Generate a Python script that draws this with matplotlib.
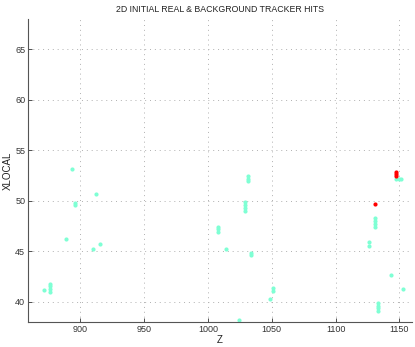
import numpy as np
import matplotlib
matplotlib.use("Agg")
from matplotlib import pyplot as plt

# background hits (Z, XLOCAL)
bg_z = [871.5, 876.2, 876.2, 876.2, 876.2, 888.8, 893.2, 895.8, 895.8, 910.2, 912.5, 915.1,
        1007.6, 1007.6, 1007.6, 1014.4, 1024.4, 1029.1, 1029.1, 1029.1, 1029.1,
        1031.4, 1031.4, 1031.4, 1034.0, 1034.0, 1048.4, 1051.0, 1051.0,
        1126.2, 1126.2, 1131.0, 1131.0, 1131.0, 1131.0, 1133.3, 1133.3, 1133.3, 1133.3,
        1143.2, 1147.5, 1149.5, 1151.5, 1152.9]
bg_x = [41.2, 41.0, 41.3, 41.55, 41.8, 46.25, 53.2, 49.6, 49.8, 45.2, 50.7, 45.7,
        46.9, 47.2, 47.45, 45.2, 38.2, 48.95, 49.3, 49.6, 49.85,
        51.95, 52.2, 52.45, 44.6, 44.85, 40.25, 41.05, 41.4,
        45.55, 45.9, 47.45, 47.75, 48.05, 48.35, 39.05, 39.35, 39.6, 39.85,
        42.7, 52.2, 52.2, 52.2, 41.25]

# real hits
real_z = [1131.0, 1147.6, 1147.6, 1147.6]
real_x = [49.7, 52.5, 52.7, 52.9]

plt.rcParams['font.family'] = ['Liberation Sans', 'DejaVu Sans']

fig = plt.figure(figsize=(4.15, 3.47), dpi=100)
ax = fig.add_axes([0.0675, 0.072, 0.9255, 0.873])

ax.plot(bg_z, bg_x, 'o', color='#7fffd4', markersize=3.0, markeredgewidth=0)
ax.plot(real_z, real_x, 'o', color='red', markersize=3.0, markeredgewidth=0)

ax.set_xlim(859, 1160)
ax.set_ylim(38, 68)
ax.set_xticks([900, 950, 1000, 1050, 1100, 1150])
ax.set_yticks([40, 45, 50, 55, 60, 65])
ax.grid(True, linestyle=(0, (1, 4)), color='#b0b0b0', linewidth=0.7)

for s in ['top', 'right']:
    ax.spines[s].set_visible(False)
for s in ['left', 'bottom']:
    ax.spines[s].set_color('#555555')
    ax.spines[s].set_linewidth(0.8)
ax.tick_params(direction='in', length=3, labelsize=6.5, colors='#333333', width=0.6, pad=2)

ax.set_title('2D INITIAL REAL & BACKGROUND TRACKER HITS', fontsize=6.3, color='#222222', pad=5)
ax.set_xlabel('Z', fontsize=7, color='#222222', labelpad=1)
ax.set_ylabel('XLOCAL', fontsize=7, color='#222222', va='center')
ax.yaxis.set_label_coords(-0.052, 0.5)

fig.savefig('out.png', dpi=100)
